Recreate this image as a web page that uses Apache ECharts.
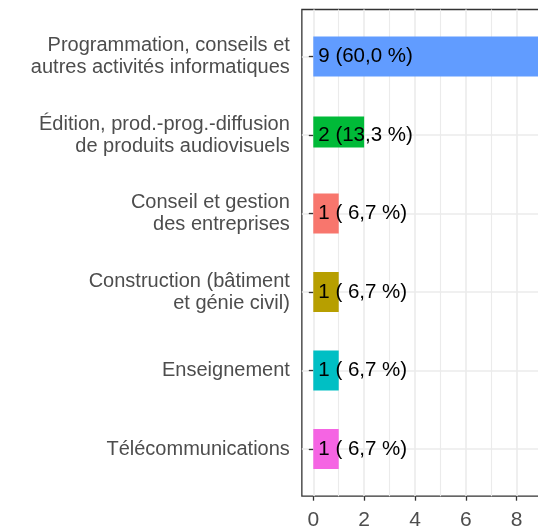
<!DOCTYPE html>
<html>
<head>
<meta charset="utf-8">
<script src="https://cdn.jsdelivr.net/npm/echarts@6/dist/echarts.min.js"></script>
<style>
html,body{margin:0;padding:0;background:#fff;}
#chart{width:538px;height:528px;}
</style>
</head>
<body>
<div id="chart"></div>
<script>
// ---- data ----
const categories = [
  "Programmation, conseils et\nautres activités informatiques",
  "Édition, prod.-prog.-diffusion\nde produits audiovisuels",
  "Conseil et gestion\ndes entreprises",
  "Construction (bâtiment\net génie civil)",
  "Enseignement",
  "Télécommunications"
];
const counts = [9, 2, 1, 1, 1, 1];
const percents = [60.0, 13.3, 6.7, 6.7, 6.7, 6.7];
const xTickValues = [0, 2, 4, 6, 8];

// ---- styles ----
const barColors = ['#619CFF', '#00BA38', '#F8766D', '#B79F00', '#00BFC4', '#F564E3'];
const narrowIndex = 1;   // the green bar is drawn thinner in the reference
const FONT = 'Liberation Sans, Arial, Helvetica, sans-serif';
const GRID_LINE = '#EBEBEB';
const DARK = '#333333';
const TEXT = '#4D4D4D';

// panel geometry
const PX_PER_UNIT = 25.42;
const X0 = 313.3;                 // pixel of value 0
const PANEL_LEFT = X0 - 0.45 * PX_PER_UNIT;
const PANEL_W = 9.9 * PX_PER_UNIT;
const PANEL_TOP = 9.5;
const BAND = 78.5;
const PANEL_H = 6.2 * BAND;

function fmtPct(p) {
  let s = p.toFixed(1).replace('.', ',');
  while (s.length < 4) s = ' ' + s;
  return s + ' %';
}

const chart = echarts.init(document.getElementById('chart'), null, {renderer: 'canvas'});

const hiddenVal = (g, extra) => Object.assign({type: 'value', gridIndex: g, show: false}, extra || {});

const option = {
  animation: false,
  backgroundColor: '#ffffff',
  textStyle: {fontFamily: FONT},
  grid: [
    // 0: panel border
    {left: PANEL_LEFT, top: PANEL_TOP, width: PANEL_W, height: PANEL_H, show: true,
     borderColor: DARK, borderWidth: 1.3, backgroundColor: 'transparent', outerBoundsMode: 'none'},
    // 1: vertical grid lines + x axis ticks/labels
    {left: X0, top: PANEL_TOP, width: PANEL_W, height: PANEL_H, outerBoundsMode: 'none'},
    // 2: horizontal grid lines
    {left: PANEL_LEFT, top: PANEL_TOP + 0.6 * BAND, width: PANEL_W, height: 5 * BAND, outerBoundsMode: 'none'},
    // 3: bars
    {left: PANEL_LEFT, top: PANEL_TOP + 0.1 * BAND, width: PANEL_W, height: 6 * BAND, outerBoundsMode: 'none'},
    // 4: narrow bar
    {left: PANEL_LEFT, top: PANEL_TOP + 0.1 * BAND - 3, width: PANEL_W, height: 6 * BAND, outerBoundsMode: 'none'}
  ],
  xAxis: [
    hiddenVal(0, {min: 0, max: 1}),
    {
      type: 'value', gridIndex: 1, min: 0, max: 9.9, interval: 2,
      axisLine: {show: false},
      axisTick: {show: true, length: 4.5, lineStyle: {color: DARK, width: 1.3}},
      axisLabel: {
        show: true, margin: 14, fontSize: 21, color: TEXT, fontFamily: FONT,
        showMaxLabel: false,
        formatter: v => xTickValues.indexOf(v) >= 0 ? String(v) : ''
      },
      splitLine: {show: true, lineStyle: {color: GRID_LINE, width: 1.6}},
      minorTick: {show: false, splitNumber: 2},
      minorSplitLine: {show: true, lineStyle: {color: GRID_LINE, width: 1.1}}
    },
    hiddenVal(2, {min: 0, max: 1}),
    hiddenVal(3, {min: -0.45, max: 9.45}),
    hiddenVal(4, {min: -0.45, max: 9.45})
  ],
  yAxis: [
    hiddenVal(0, {min: 0, max: 1}),
    hiddenVal(1, {min: 0, max: 1}),
    {
      type: 'value', gridIndex: 2, min: 1, max: 6, interval: 1,
      axisLine: {show: false}, axisTick: {show: false}, axisLabel: {show: false},
      splitLine: {show: true, lineStyle: {color: GRID_LINE, width: 1.6}}
    },
    {
      type: 'category', gridIndex: 3, data: categories, inverse: true,
      axisLine: {show: false},
      axisTick: {show: true, alignWithLabel: true, length: 4.5, lineStyle: {color: DARK, width: 1.3}},
      axisLabel: {
        show: true, margin: 12, fontSize: 20, lineHeight: 22, color: TEXT,
        fontFamily: FONT, align: 'right'
      },
      splitLine: {show: false}
    },
    {type: 'category', gridIndex: 4, data: categories, inverse: true, show: false}
  ],
  series: [
    {
      type: 'bar', xAxisIndex: 3, yAxisIndex: 3, z: 3,
      barWidth: 40,
      data: counts.map((c, i) => ({
        value: c,
        itemStyle: {color: i === narrowIndex ? 'rgba(0,0,0,0)' : barColors[i]}
      })),
      label: {
        show: true, position: 'insideLeft', distance: 5,
        color: '#000000', fontSize: 20.5, fontFamily: FONT,
        formatter: p => counts[p.dataIndex] + ' (' + fmtPct(percents[p.dataIndex]) + ')'
      }
    },
    {
      type: 'bar', xAxisIndex: 4, yAxisIndex: 4, z: 2,
      barWidth: 31,
      data: counts.map((c, i) => i === narrowIndex ? {value: c, itemStyle: {color: barColors[i]}} : '-'),
      label: {show: false}
    }
  ]
};
chart.setOption(option);
</script>
</body>
</html>
